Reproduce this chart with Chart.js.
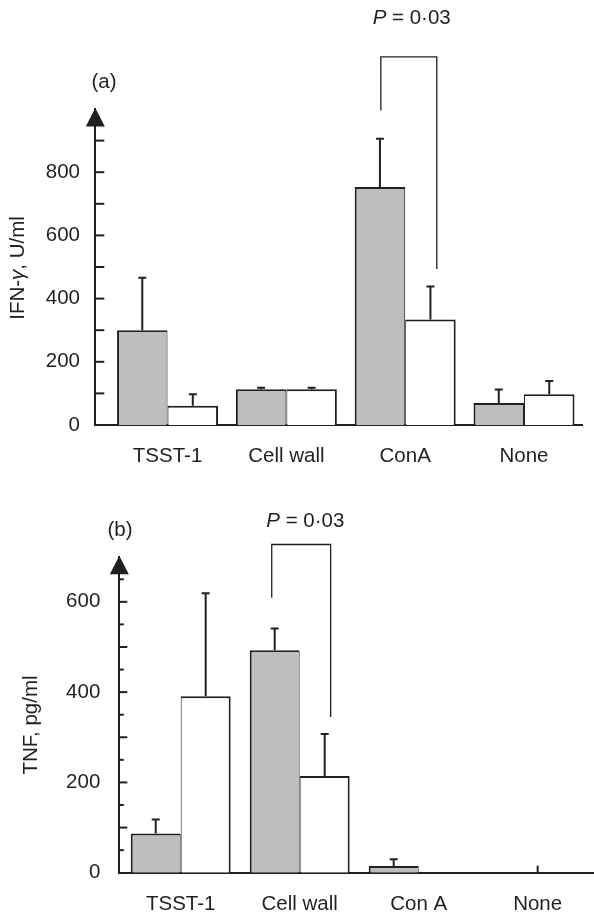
<!DOCTYPE html>
<html><head><meta charset="utf-8">
<script src="https://cdn.jsdelivr.net/npm/chart.js@4/dist/chart.umd.min.js"></script>
<style>
html,body{margin:0;padding:0;background:#fff;}
#wrap{position:relative;width:594px;height:920px;overflow:hidden;}
canvas{position:absolute;left:0;}
#ca{top:0}
#cb{top:480px}
</style></head><body>
<div id="wrap"><canvas id="ca" width="594" height="480"></canvas><canvas id="cb" width="594" height="440"></canvas></div>
<script>
// ---------- data (panel a: IFN-gamma) ----------
const categoriesA = ['TSST-1', 'Cell wall', 'ConA', 'None'];
const ifnGrey      = [300, 113, 753, 70];
const ifnGreyErr   = [466, 118, 906, 112];
const ifnWhite     = [61, 113, 334, 97];
const ifnWhiteErr  = [97, 118, 438, 139];
const ifnTickLabels = [0, 200, 400, 600, 800];
const ifnBracket = [1.795, 2.266, 1165, 995, 494]; // xLeft, xRight, yTop, yLeftEnd, yRightEnd (data units)

// ---------- data (panel b: TNF) ----------
const categoriesB = ['TSST-1', 'Cell wall', 'Con A', 'None'];
const tnfGrey      = [87, 493, 15, 0];
const tnfGreyErr   = [118, 541, 30, null];
const tnfWhite     = [391, 214, 0, 0];
const tnfWhiteErr  = [619, 307, null, null];
const tnfTickLabels = [0, 200, 400, 600];
const tnfBracket = [0.765, 1.26, 727, 609, 345];
const tnfMarkCategories = ['None'];

const pValueText = ['P', ' = 0·03'];

// ---------- styling ----------
const INK = '#231f20';
const GREY = '#bcbec0';
const FONT = '"Liberation Sans", Arial, Helvetica, sans-serif';
const FS = 20.5;

function toXY(arr) { return arr.map((v, i) => ({x: i, y: v})); }

function drawSegments(ctx, segs, cx, cy, rot) {
  ctx.save();
  ctx.translate(cx, cy);
  if (rot) ctx.rotate(rot);
  ctx.textBaseline = 'middle';
  ctx.textAlign = 'left';
  let total = 0;
  const widths = segs.map(s => { ctx.font = (s.italic ? 'italic ' : '') + FS + 'px ' + FONT; const w = ctx.measureText(s.t).width; total += w; return w; });
  let x = -total / 2;
  segs.forEach((s, i) => {
    ctx.font = (s.italic ? 'italic ' : '') + FS + 'px ' + FONT;
    ctx.fillStyle = INK;
    ctx.fillText(s.t, x, 0);
    x += widths[i];
  });
  ctx.restore();
}

function makeExtras(cfg) {
  return {
    id: 'extras',
    afterDraw(chart) {
      const ctx = chart.ctx, xs = chart.scales.x, ys = chart.scales.y, ca = chart.chartArea;
      ctx.save();
      ctx.strokeStyle = INK; ctx.fillStyle = INK;
      // inward tick marks
      ctx.lineWidth = 2;
      ys.ticks.forEach(t => {
        if (t.value <= ys.min || t.value >= ys.max) return;
        const y = ys.getPixelForValue(t.value);
        const len = cfg.tickLen(t.value);
        ctx.beginPath(); ctx.moveTo(ca.left, y); ctx.lineTo(ca.left + len, y); ctx.stroke();
      });
      // arrow head at top of y axis
      const top = ys.getPixelForValue(ys.max);
      ctx.beginPath();
      ctx.moveTo(ca.left, top - 1);
      ctx.lineTo(ca.left - 9.5, top + 17.5);
      ctx.lineTo(ca.left + 9.5, top + 17.5);
      ctx.closePath(); ctx.fill();
      // error bars
      ctx.lineWidth = 2;
      cfg.errs.forEach((errArr, di) => {
        const meta = chart.getDatasetMeta(di);
        meta.data.forEach((bar, i) => {
          const e = errArr[i];
          if (e === null || e === undefined) return;
          const yTop = ys.getPixelForValue(e);
          ctx.beginPath();
          ctx.moveTo(bar.x, bar.y);
          ctx.lineTo(bar.x, yTop);
          ctx.moveTo(bar.x - 4, yTop);
          ctx.lineTo(bar.x + 4, yTop);
          ctx.stroke();
        });
      });
      // small marks on x axis
      (cfg.marks || []).forEach(name => {
        const idx = cfg.categories.indexOf(name);
        const x = xs.getPixelForValue(idx);
        ctx.beginPath(); ctx.moveTo(x, ca.bottom); ctx.lineTo(x, ca.bottom - 7); ctx.stroke();
      });
      // significance bracket
      const b = cfg.bracket;
      const xl = xs.getPixelForValue(b[0]), xr = xs.getPixelForValue(b[1]);
      const yt = ys.getPixelForValue(b[2]), yl = ys.getPixelForValue(b[3]), yr = ys.getPixelForValue(b[4]);
      ctx.lineWidth = 1.3;
      ctx.beginPath();
      ctx.moveTo(xl, yl); ctx.lineTo(xl, yt); ctx.lineTo(xr, yt); ctx.lineTo(xr, yr);
      ctx.stroke();
      ctx.restore();
      // texts
      drawSegments(ctx, [{t: pValueText[0], italic: true}, {t: pValueText[1]}], cfg.pPos[0], cfg.pPos[1]);
      drawSegments(ctx, [{t: cfg.panel}], cfg.panelPos[0], cfg.panelPos[1]);
      drawSegments(ctx, cfg.title, cfg.titlePos[0], cfg.titlePos[1], -Math.PI / 2);
    }
  };
}

function makeChart(canvasId, o) {
  return new Chart(document.getElementById(canvasId), {
    type: 'bar',
    data: {
      datasets: [
        {data: toXY(o.grey), backgroundColor: GREY, borderColor: INK,
         borderWidth: {top: 2, left: 2, right: 1, bottom: 0}, borderSkipped: 'start',
         categoryPercentage: o.catPct, barPercentage: 1},
        {data: toXY(o.white), backgroundColor: '#ffffff', borderColor: INK,
         borderWidth: {top: 2, left: 1, right: 2, bottom: 0}, borderSkipped: 'start',
         categoryPercentage: o.catPct, barPercentage: 1}
      ]
    },
    options: {
      responsive: false, animation: false, devicePixelRatio: 1,
      layout: {padding: {top: o.padTop, right: o.padRight, left: 0, bottom: 0}},
      plugins: {legend: {display: false}, tooltip: {enabled: false}},
      scales: {
        x: {
          type: 'linear', min: o.xMin, max: o.xMax, offset: false,
          grid: {display: false, drawTicks: false, offset: false},
          border: {display: true, color: INK, width: 2},
          ticks: {stepSize: 1, includeBounds: false, autoSkip: false, maxRotation: 0, minRotation: 0,
                  padding: 19.5, color: INK, font: {family: FONT, size: FS},
                  callback: v => (Number.isInteger(v) && o.categories[v] !== undefined) ? o.categories[v] : ''},
          afterFit: s => { s.height = o.xHeight; }
        },
        y: {
          min: 0, max: o.yMax,
          grid: {display: false, drawTicks: false},
          border: {display: true, color: INK, width: 2},
          ticks: {stepSize: o.yStep, maxTicksLimit: 100, autoSkip: false, padding: o.yPad,
                  color: INK, font: {family: FONT, size: FS},
                  callback: v => o.tickLabels.includes(v) ? String(v) : ''},
          afterFit: s => { s.width = o.yWidth; }
        }
      }
    },
    plugins: [makeExtras(o.extras)]
  });
}

makeChart('ca', {
  categories: categoriesA, grey: ifnGrey, white: ifnWhite, tickLabels: ifnTickLabels,
  catPct: 0.85, padTop: 109, padRight: 12, xMin: -0.608, xMax: 3.488, xHeight: 55,
  yMax: 1000, yStep: 100, yPad: 15.3, yWidth: 95.3,
  extras: {
    categories: categoriesA, errs: [ifnGreyErr, ifnWhiteErr], bracket: ifnBracket,
    tickLen: v => 9, marks: [],
    pPos: [411.7, 18], panel: '(a)', panelPos: [104, 82],
    title: [{t: 'IFN-'}, {t: 'γ', italic: true}, {t: ', U/ml'}], titlePos: [18, 268]
  }
});

makeChart('cb', {
  categories: categoriesB, grey: tnfGrey, white: tnfWhite, tickLabels: tnfTickLabels,
  catPct: 0.84, padTop: 76.7, padRight: 1, xMin: -0.516, xMax: 3.465, xHeight: 47.3,
  yMax: 700, yStep: 50, yPad: 19, yWidth: 119.3,
  extras: {
    categories: categoriesB, errs: [tnfGreyErr, tnfWhiteErr], bracket: tnfBracket,
    tickLen: v => (v % 100 === 0 ? 8 : 4.5), marks: tnfMarkCategories,
    pPos: [305.3, 41.7], panel: '(b)', panelPos: [120, 50],
    title: [{t: 'TNF, pg/ml'}], titlePos: [31.7, 245]
  }
});
</script>
</body></html>
